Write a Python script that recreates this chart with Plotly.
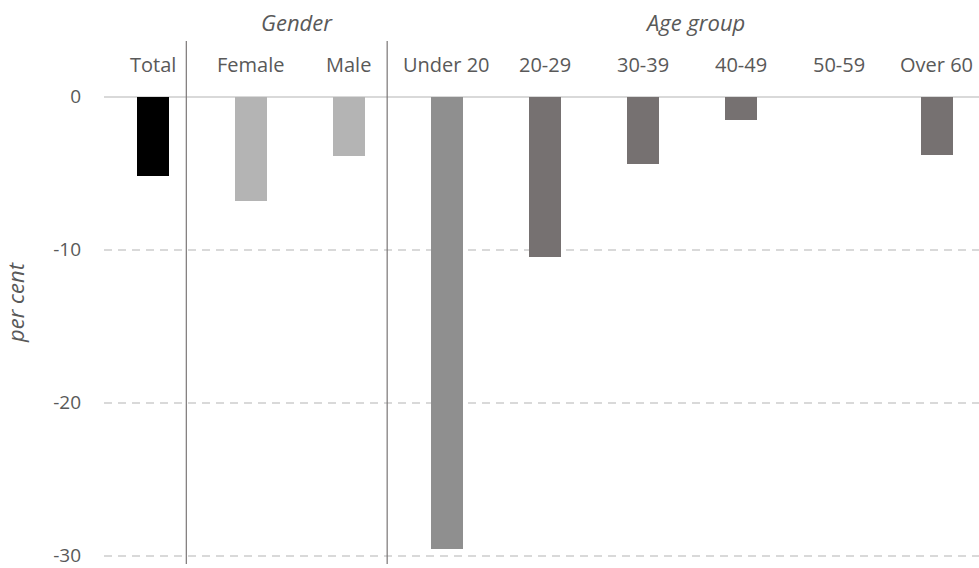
import plotly.graph_objects as go

categories = ["Total", "Female", "Male", "Under 20", "20-29", "30-39", "40-49", "50-59", "Over 60"]
values = [-5.2, -6.8, -3.9, -29.6, -10.5, -4.4, -1.5, 0.0, -3.8]
bar_colors = ["#000000", "#b4b4b4", "#b4b4b4", "#8f8f8f", "#767171", "#767171", "#767171", "#767171", "#767171"]
group_labels = ["Gender", "Age group"]
y_ticks = [0, -10, -20, -30]

FONT = "Open Sans"
GREY = "#595959"

fig = go.Figure()
fig.add_trace(go.Bar(
    x=list(range(len(categories))),
    y=values,
    marker=dict(color=bar_colors, line=dict(width=0)),
    width=0.32,
    hoverinfo="skip",
))

# category labels
for i, c in enumerate(categories):
    fig.add_annotation(x=i, y=2.1, xref="x", yref="y", text=c, showarrow=False,
                       font=dict(family=FONT, size=20, color=GREY),
                       xanchor="center", yanchor="middle")

# group headings
fig.add_annotation(x=1.47, y=1.036, xref="x", yref="paper", text="<i>" + group_labels[0] + "</i>",
                   showarrow=False, font=dict(family=FONT, size=22, color=GREY),
                   xanchor="center", yanchor="middle")
fig.add_annotation(x=5.53, y=1.036, xref="x", yref="paper", text="<i>" + group_labels[1] + "</i>",
                   showarrow=False, font=dict(family=FONT, size=22, color=GREY),
                   xanchor="center", yanchor="middle")

# separators
for xs in [0.34, 2.39]:
    fig.add_shape(type="line", x0=xs, x1=xs, y0=0, y1=1, xref="x", yref="paper",
                  line=dict(color="#7a7676", width=1.2), layer="above")

fig.update_layout(
    width=979, height=568,
    margin=dict(l=104, r=0, t=41, b=0),
    paper_bgcolor="white", plot_bgcolor="white",
    showlegend=False,
    bargap=0,
    xaxis=dict(range=[-0.5, 8.43], showticklabels=False, showgrid=False, zeroline=False,
               showline=False, ticks=""),
    yaxis=dict(range=[-30.55, 3.65], tickvals=y_ticks, ticktext=[str(v) for v in y_ticks],
               showgrid=True, gridcolor="#d9d9d9", gridwidth=1.5, griddash="8px,6px",
               zeroline=True, zerolinecolor="#d9d9d9", zerolinewidth=2,
               showline=False, ticks="", ticklabelstandoff=22, ticklabeloverflow="allow",
               tickfont=dict(family=FONT, size=19, color=GREY),
               title=dict(text="<i>per cent</i>", standoff=30,
                          font=dict(family=FONT, size=22, color=GREY))),
)

fig.write_html("out.html", config={"displayModeBar": False},
               post_script="document.body.style.margin='0';document.body.style.overflow='hidden';")
